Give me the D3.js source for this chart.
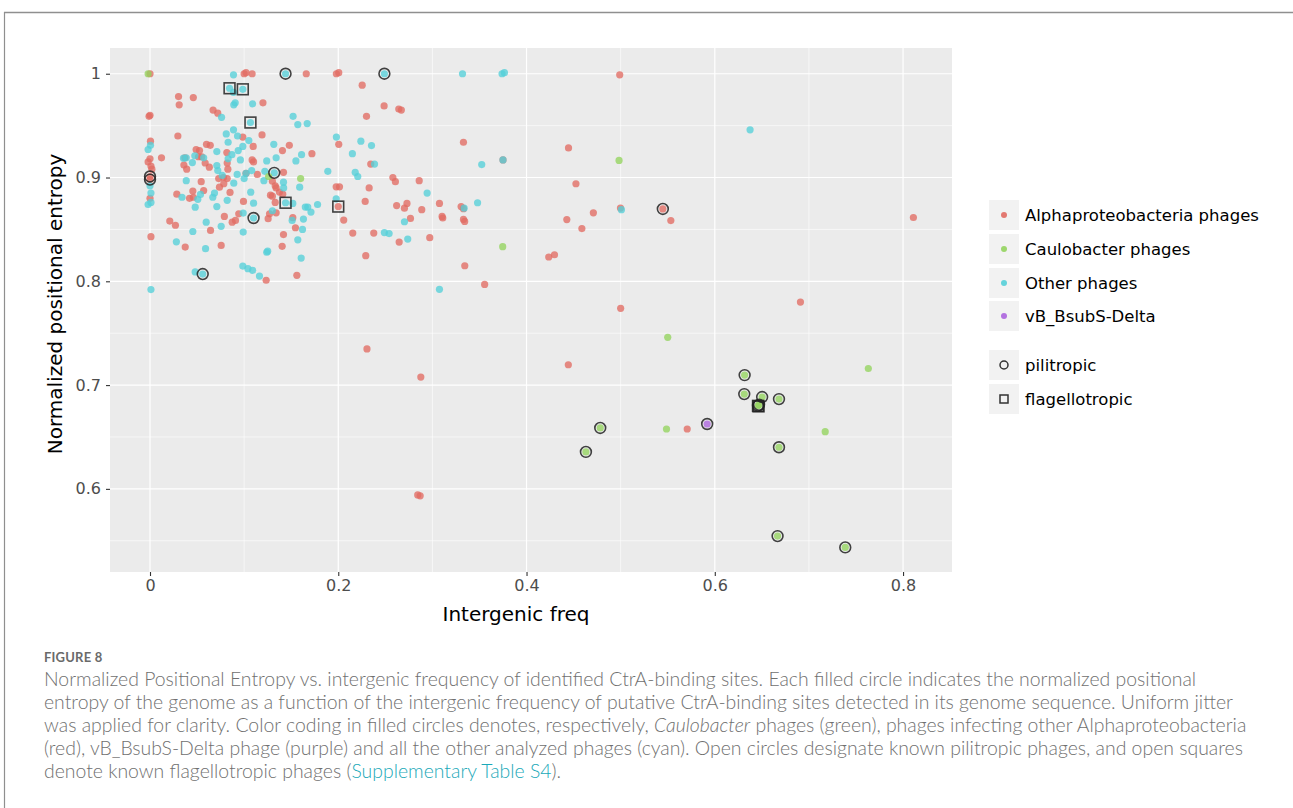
<!DOCTYPE html>
<html><head><meta charset="utf-8">
<script src="https://cdn.jsdelivr.net/npm/d3@7"></script>
<style>
html,body{margin:0;padding:0;background:#fff;}
svg{display:block;}
</style></head>
<body>
<svg id="chart" width="1293" height="808"></svg>
<script>
// ---------------- data ----------------
const categories = ["Alphaproteobacteria phages", "Caulobacter phages", "Other phages", "vB_BsubS-Delta"];
const tropisms = ["pilitropic", "flagellotropic"];
const xTicks = [0, 0.2, 0.4, 0.6, 0.8];
const xTickLabels = ["0", "0.2", "0.4", "0.6", "0.8"];
const yTicks = [0.6, 0.7, 0.8, 0.9, 1.0];
const yTickLabels = ["0.6", "0.7", "0.8", "0.9", "1"];
const xMinor = [0.1, 0.3, 0.5, 0.7];
const yMinor = [0.55, 0.65, 0.75, 0.85, 0.95];

const alphaPoints = [
 [0.000,1.000],[0.100,1.000],[0.102,1.001],[0.1085,1.000],[0.166,1.000],[0.198,1.000],[0.2005,1.001],[0.499,0.999],
 [0.0303,0.978],[0.046,0.977],[0.031,0.970],[0.120,0.972],[0.067,0.965],[0.072,0.962],[-0.001,0.959],[0.000,0.960],
 [0.2254,0.989],[0.2487,0.969],[0.2643,0.966],[0.267,0.965],[0.230,0.959],[0.0296,0.940],[0.0986,0.939],[0.119,0.941],
 [0.0005,0.935],[0.060,0.932],[0.064,0.931],[0.049,0.927],[0.0526,0.926],[0.0122,0.919],[0.037,0.919],[0.0515,0.920],
 [0.055,0.920],[0.0586,0.914],[0.063,0.910],[0.0816,0.924],[0.082,0.914],[0.0827,0.908],[0.1096,0.930],[0.1085,0.917],
 [0.110,0.915],[0.114,0.903],[0.1407,0.926],[0.148,0.931],[0.1418,0.905],[0.130,0.8965],[0.133,0.892],[0.0544,0.896],
 [0.073,0.899],[0.078,0.900],[0.000,0.918],[-0.002,0.915],[0.001,0.911],[0.002,0.908],[0.000,0.901],[0.000,0.898],
 [0.333,0.934],[0.172,0.923],[0.2005,0.932],[0.2345,0.913],[0.258,0.900],[0.2607,0.896],[0.286,0.897],[0.1978,0.891],
 [0.2013,0.891],[0.2328,0.890],[0.2286,0.877],[0.262,0.873],[0.273,0.875],[0.2703,0.8705],[0.2887,0.869],[0.3075,0.875],
 [0.3305,0.872],[0.333,0.870],[0.3103,0.8625],[0.311,0.861],[0.333,0.8596],[0.3343,0.8577],[0.2767,0.8606],[0.2058,0.859],
 [0.2154,0.8465],[0.2377,0.8465],[0.2647,0.8378],[0.2972,0.842],[0.2292,0.8247],[0.3344,0.815],[0.3555,0.797],[0.375,0.917],
 [0.000,0.880],[0.001,0.843],[0.021,0.858],[0.027,0.854],[0.0374,0.833],[0.0285,0.884],[0.042,0.880],[0.046,0.881],
 [0.0455,0.887],[0.057,0.8875],[0.0643,0.849],[0.0738,0.8907],[0.0784,0.894],[0.082,0.899],[0.0756,0.8346],[0.079,0.8625],
 [0.085,0.8856],[0.0873,0.857],[0.0908,0.8587],[0.0943,0.865],[0.0993,0.877],[0.102,0.904],[0.1234,0.801],[0.1255,0.8603],
 [0.127,0.865],[0.128,0.883],[0.130,0.882],[0.134,0.890],[0.134,0.866],[0.133,0.876],[0.1375,0.886],[0.141,0.884],
 [0.1418,0.845],[0.1404,0.8337],[0.1517,0.8613],[0.1545,0.8516],[0.156,0.8058],[0.036,0.912],[0.039,0.908],[0.200,0.872],
 [0.500,0.774],[0.691,0.780],[0.4444,0.7196],[0.2877,0.7077],[0.5707,0.6577],[0.2844,0.5942],[0.287,0.5933],[0.4446,0.9285],
 [0.4525,0.894],[0.4998,0.8706],[0.5448,0.8697],[0.5533,0.8585],[0.471,0.866],[0.4428,0.8595],[0.4588,0.8508],[0.4236,0.8234],
 [0.4297,0.8256],[0.811,0.8615],[0.2305,0.7348]
];

const otherPoints = [
 [0.0887,0.999],[0.144,1.000],[0.249,1.000],[0.332,1.000],[0.374,1.000],[0.3765,1.001],[0.0845,0.986],[0.0986,0.985],
 [0.0887,0.982],[0.0905,0.972],[0.089,0.970],[0.109,0.971],[0.076,0.958],[0.1067,0.953],[0.152,0.959],[0.157,0.951],
 [0.167,0.952],[0.081,0.942],[0.0887,0.946],[0.093,0.940],[0.105,0.9356],[0.083,0.934],[0.0005,0.931],[-0.002,0.927],
 [0.071,0.925],[0.0356,0.9186],[0.0385,0.919],[0.045,0.9144],[0.0476,0.921],[0.057,0.919],[0.071,0.9115],[0.072,0.9067],
 [0.083,0.918],[0.087,0.922],[0.0937,0.926],[0.0986,0.930],[0.096,0.917],[0.108,0.9067],[0.102,0.904],[0.0926,0.903],
 [0.100,0.899],[0.122,0.906],[0.124,0.916],[0.134,0.919],[0.1315,0.932],[0.155,0.916],[0.161,0.922],[0.132,0.9045],
 [0.121,0.897],[0.0385,0.897],[0.0767,0.902],[0.000,0.892],[0.001,0.885],[-0.002,0.874],[0.001,0.876],[0.001,0.792],
 [0.028,0.838],[0.034,0.881],[0.0508,0.879],[0.0536,0.8837],[0.048,0.8714],[0.0455,0.848],[0.0597,0.857],[0.059,0.8314],
 [0.048,0.809],[0.056,0.807],[0.0667,0.881],[0.0685,0.885],[0.071,0.872],[0.0756,0.853],[0.082,0.878],[0.089,0.8946],
 [0.099,0.8657],[0.099,0.8474],[0.107,0.8859],[0.110,0.8753],[0.110,0.861],[0.0986,0.8147],[0.104,0.8122],[0.109,0.8106],
 [0.1163,0.805],[0.124,0.828],[0.125,0.829],[0.130,0.868],[0.144,0.8757],[0.1418,0.8955],[0.151,0.8587],[0.163,0.860],
 [0.162,0.850],[0.157,0.840],[0.1606,0.8224],[0.165,0.8715],[0.1676,0.8715],[0.159,0.8907],[0.198,0.939],[0.224,0.935],
 [0.2353,0.9308],[0.3524,0.9125],[0.375,0.917],[0.1889,0.906],[0.215,0.923],[0.2385,0.913],[0.218,0.905],[0.2207,0.901],
 [0.142,0.890],[0.2944,0.885],[0.1517,0.875],[0.1978,0.8795],[0.171,0.8667],[0.178,0.874],[0.3337,0.8705],[0.348,0.8757],
 [0.2703,0.8574],[0.249,0.847],[0.254,0.846],[0.2738,0.8407],[0.3075,0.7923],[0.5008,0.869],[0.6375,0.946]
];

const caulobacterPoints = [
 [-0.002,1.000],[0.126,0.901],[0.160,0.899],[0.3747,0.8334],[0.4983,0.9165],[0.550,0.746],[0.7631,0.716],[0.6317,0.7096],
 [0.6313,0.6913],[0.6503,0.6885],[0.6682,0.6865],[0.6459,0.680],[0.6470,0.681],[0.5487,0.6577],[0.4783,0.6587],[0.4631,0.6356],
 [0.7173,0.6551],[0.6682,0.6401],[0.6667,0.5545],[0.7386,0.5436]
];

const deltaPoints = [[0.5919,0.6625]];

const pilitropicPoints = [
 [0.144,1.000],[0.249,1.000],[0.000,0.901],[0.000,0.898],[0.132,0.9045],[0.056,0.807],[0.110,0.861],[0.5448,0.8697],
 [0.6317,0.7096],[0.6313,0.6913],[0.6503,0.6885],[0.6682,0.6865],[0.6459,0.680],[0.6470,0.681],[0.4783,0.6587],[0.4631,0.6356],
 [0.6682,0.6401],[0.6667,0.5545],[0.7386,0.5436],[0.5919,0.6625]
];

const flagellotropicPoints = [
 [0.0845,0.986],[0.0986,0.985],[0.1067,0.953],[0.144,0.8757],[0.200,0.872],[0.6459,0.680],[0.6465,0.6795]
];

const colors = ["#E16C63", "#93D45E", "#55CFD8", "#AC64DE"];

// ---------------- drawing ----------------
const svg = d3.select("#chart");
const panel = {left:110, right:952, top:48, bottom:572};
const x = d3.scaleLinear().domain([-0.0425, 0.852]).range([panel.left, panel.right]);
const y = d3.scaleLinear().domain([0.5199, 1.0248]).range([panel.bottom, panel.top]);

// frame
svg.append("line").attr("x1",4).attr("x2",1293).attr("y1",12.5).attr("y2",12.5).attr("stroke","#8f8f8f").attr("stroke-width",1.5);
svg.append("line").attr("x1",4.5).attr("x2",4.5).attr("y1",12).attr("y2",808).attr("stroke","#8f8f8f").attr("stroke-width",1.2);

// panel
svg.append("rect").attr("x",panel.left).attr("y",panel.top).attr("width",panel.right-panel.left).attr("height",panel.bottom-panel.top).attr("fill","#EBEBEB");
const grid = svg.append("g");
grid.selectAll(".xm").data(xMinor).join("line").attr("x1",d=>x(d)).attr("x2",d=>x(d)).attr("y1",panel.top).attr("y2",panel.bottom).attr("stroke","#fff").attr("stroke-width",0.6);
grid.selectAll(".ym").data(yMinor).join("line").attr("class","ym").attr("y1",d=>y(d)).attr("y2",d=>y(d)).attr("x1",panel.left).attr("x2",panel.right).attr("stroke","#fff").attr("stroke-width",0.6);
grid.selectAll(".xM").data(xTicks).join("line").attr("class","xM").attr("x1",d=>x(d)).attr("x2",d=>x(d)).attr("y1",panel.top).attr("y2",panel.bottom).attr("stroke","#fff").attr("stroke-width",1.2);
grid.selectAll(".yM").data(yTicks).join("line").attr("class","yM").attr("y1",d=>y(d)).attr("y2",d=>y(d)).attr("x1",panel.left).attr("x2",panel.right).attr("stroke","#fff").attr("stroke-width",1.2);

// axes
const xAxis = svg.append("g").attr("transform",`translate(0,${panel.bottom})`)
  .call(d3.axisBottom(x).tickValues(xTicks).tickFormat((d,i)=>xTickLabels[i]).tickSize(4).tickPadding(4));
const yAxis = svg.append("g").attr("transform",`translate(${panel.left},0)`)
  .call(d3.axisLeft(y).tickValues(yTicks).tickFormat((d,i)=>yTickLabels[i]).tickSize(4).tickPadding(5));
[xAxis,yAxis].forEach(a=>{
  a.select(".domain").remove();
  a.selectAll(".tick line").attr("stroke","#333").attr("stroke-width",1.1);
  a.selectAll(".tick text").attr("fill","#4D4D4D").style("font-family","DejaVu Sans").style("font-size","16px");
});

svg.append("text").attr("x",516).attr("y",621).attr("text-anchor","middle")
  .style("font-family","DejaVu Sans").style("font-size","20px").attr("fill","#000").text("Intergenic freq");
svg.append("text").attr("transform","translate(62,304) rotate(-90)").attr("text-anchor","middle")
  .style("font-family","DejaVu Sans").style("font-size","20px").attr("fill","#000").text("Normalized positional entropy");

// points
const pts = svg.append("g");
const groups = [alphaPoints, otherPoints, caulobacterPoints, deltaPoints];
const colorIdx = [0, 2, 1, 3];
groups.forEach((g,gi)=>{
  pts.append("g").selectAll("circle").data(g).join("circle")
    .attr("cx",d=>x(d[0])).attr("cy",d=>y(d[1])).attr("r",3.6)
    .attr("fill",colors[colorIdx[gi]]).attr("fill-opacity",0.78);
});
pts.append("g").selectAll("circle").data(pilitropicPoints).join("circle")
  .attr("cx",d=>x(d[0])).attr("cy",d=>y(d[1])).attr("r",5.4)
  .attr("fill","none").attr("stroke","#222").attr("stroke-opacity",0.85).attr("stroke-width",1.6);
pts.append("g").selectAll("rect").data(flagellotropicPoints).join("rect")
  .attr("x",d=>x(d[0])-5.4).attr("y",d=>y(d[1])-5.4).attr("width",10.8).attr("height",10.8)
  .attr("fill","none").attr("stroke","#222").attr("stroke-opacity",0.85).attr("stroke-width",1.6);

// legend
const leg = svg.append("g");
const keyX = 989, keySize = 30;
const rowsY = [200, 234, 268, 301];
categories.forEach((c,i)=>{
  leg.append("rect").attr("x",keyX).attr("y",rowsY[i]).attr("width",keySize).attr("height",keySize).attr("fill","#F2F2F2");
  leg.append("circle").attr("cx",keyX+15).attr("cy",rowsY[i]+15).attr("r",3).attr("fill",colors[i]).attr("fill-opacity",0.9);
  leg.append("text").attr("x",1025).attr("y",rowsY[i]+15).attr("dy","0.35em")
    .style("font-family","DejaVu Sans").style("font-size","16.5px").attr("fill","#000").text(c);
});
const rows2 = [350, 384];
tropisms.forEach((t,i)=>{
  leg.append("rect").attr("x",keyX).attr("y",rows2[i]).attr("width",keySize).attr("height",keySize).attr("fill","#F2F2F2");
  if(i===0) leg.append("circle").attr("cx",keyX+15).attr("cy",rows2[i]+15).attr("r",4).attr("fill","none").attr("stroke","#333").attr("stroke-width",1.5);
  else leg.append("rect").attr("x",keyX+11).attr("y",rows2[i]+11).attr("width",8).attr("height",8).attr("fill","none").attr("stroke","#333").attr("stroke-width",1.5);
  leg.append("text").attr("x",1025).attr("y",rows2[i]+15).attr("dy","0.35em")
    .style("font-family","DejaVu Sans").style("font-size","16.5px").attr("fill","#000").text(t);
});

// caption
svg.append("text").attr("x",44).attr("y",662).style("font-family","Lato").style("font-size","13px").style("font-weight","bold")
  .attr("fill","#6a6a6a").style("letter-spacing","0.2px").text("FIGURE 8");
const capLines = [
 [["Normalized Positional Entropy vs. intergenic frequency of identified CtrA-binding sites. Each filled circle indicates the normalized positional",""]],
 [["entropy of the genome as a function of the intergenic frequency of putative CtrA-binding sites detected in its genome sequence. Uniform jitter",""]],
 [["was applied for clarity. Color coding in filled circles denotes, respectively, ",""],["Caulobacter","i"],[" phages (green), phages infecting other Alphaproteobacteria",""]],
 [["(red), vB_BsubS-Delta phage (purple) and all the other analyzed phages (cyan). Open circles designate known pilitropic phages, and open squares",""]],
 [["denote known flagellotropic phages (",""],["Supplementary Table S4","l"],[").",""]]
];
const capG = svg.append("g").style("font-family","Lato").style("font-weight","300").attr("fill","#707070");
const capTexts = capLines.map((parts,i)=>{
  const t = capG.append("text").attr("x",44).attr("y",686+i*23).style("font-size","17px");
  parts.forEach(p=>{
    const ts = t.append("tspan").text(p[0]);
    if(p[1]==="i") ts.style("font-style","italic");
    if(p[1]==="l") ts.attr("fill","#1BA9B9");
  });
  return t;
});
// fit font size so first line spans like the reference
const w0 = capTexts[0].node().getComputedTextLength();
const fs = 17*1153/w0;
capTexts.forEach(t=>t.style("font-size",fs+"px"));
</script>
</body></html>
